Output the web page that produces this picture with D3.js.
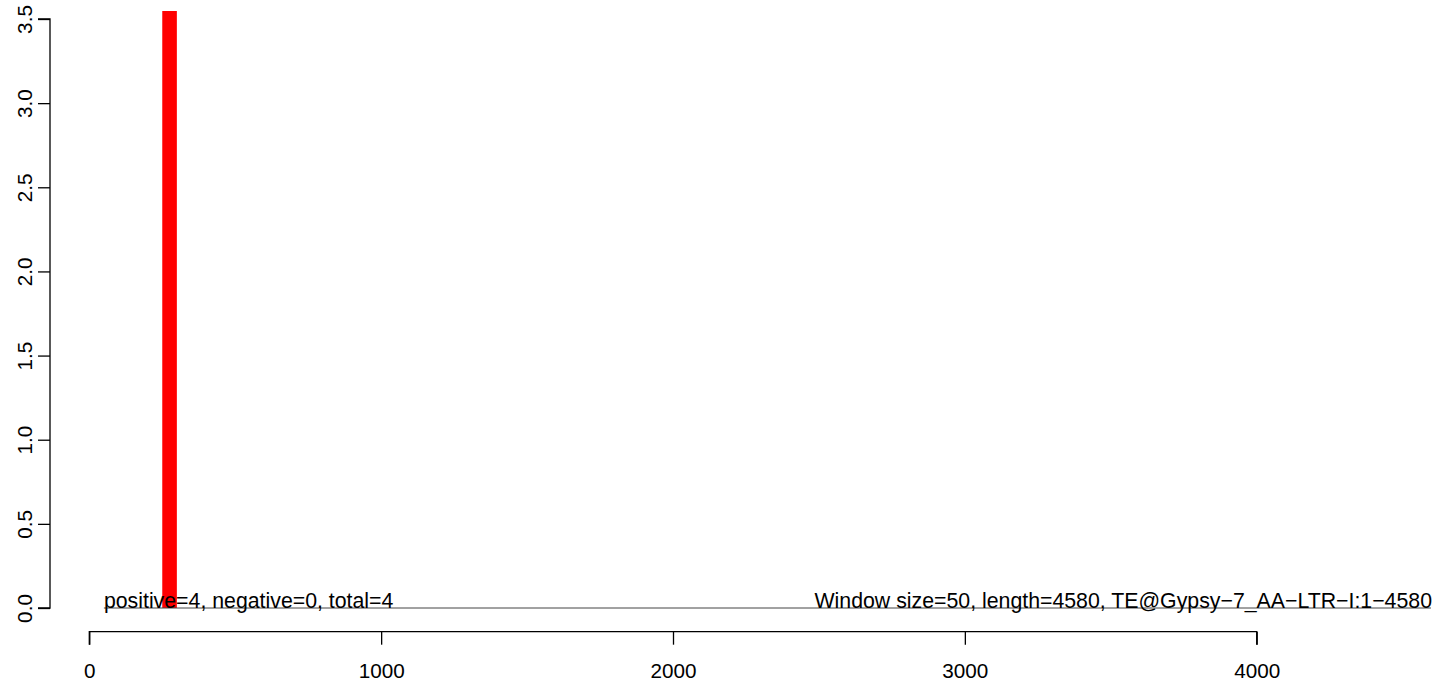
<!DOCTYPE html>
<html>
<head>
<meta charset="utf-8">
<script src="https://cdn.jsdelivr.net/npm/d3@7"></script>
<style>
html,body{margin:0;padding:0;background:#fff;}
svg{display:block;}
text{font-family:"Liberation Sans",Arial,sans-serif;}
</style>
</head>
<body>
<svg id="chart" width="1436" height="683"></svg>
<script>
// Data
const windowSize = 50;
const seqLength = 4580;
const binStarts = [250];
const binValues = [4];
const xTicks = [0, 1000, 2000, 3000, 4000];
const yTicks = [0, 0.5, 1.0, 1.5, 2.0, 2.5, 3.0, 3.5];
const baselineRange = [50, 4597];
const leftLabel = "positive=4, negative=0, total=4";
const rightLabel = "Window size=50, length=4580, TE@Gypsy\u22127_AA\u2212LTR\u2212I:1\u22124580";

const svg = d3.select("#chart");
const x = d3.scaleLinear().domain([0, 4000]).range([89.3, 1256.7]);
const y = d3.scaleLinear().domain([0, 3.5]).range([608, 19]);
const fs = 20.7;
const fsNote = 21.3;

svg.append("defs").append("clipPath").attr("id", "plotclip")
  .append("rect").attr("x", 0).attr("y", 11).attr("width", 1436).attr("height", 683 - 11);

// bars
svg.append("g").attr("clip-path", "url(#plotclip)")
  .selectAll("rect").data(binStarts.map((s, i) => ({s, v: binValues[i]})))
  .join("rect")
  .attr("x", d => x(d.s))
  .attr("width", d => x(d.s + windowSize) - x(d.s))
  .attr("y", d => y(d.v))
  .attr("height", d => y(0) - y(d.v))
  .attr("fill", "#FF0000");

// baseline
svg.append("line")
  .attr("x1", x(baselineRange[0])).attr("x2", x(baselineRange[1]))
  .attr("y1", y(0)).attr("y2", y(0))
  .attr("stroke", "#444").attr("stroke-width", 1);

// labels
svg.append("text").attr("x", x(baselineRange[0])).attr("y", y(0))
  .attr("font-size", fsNote).attr("fill", "#000").text(leftLabel);
svg.append("text").attr("x", 1432).attr("y", y(0))
  .attr("text-anchor", "end")
  .attr("font-size", fsNote).attr("fill", "#000").text(rightLabel);

// y axis
const yAxis = svg.append("g").attr("transform", "translate(50,0)")
  .call(d3.axisLeft(y).tickValues(yTicks).tickSize(12).tickFormat(d3.format(".1f")));
yAxis.select(".domain").attr("d", `M-12,${y(3.5)}H0V${y(0)}H-12`).attr("stroke-width", 1.3);
yAxis.selectAll(".tick line").attr("stroke-width", 1.3);
yAxis.selectAll(".tick text")
  .attr("font-size", fs).attr("font-family", "Liberation Sans, Arial, sans-serif")
  .attr("fill", "#000")
  .attr("transform", "rotate(-90)")
  .attr("x", 0).attr("dx", null).attr("dy", null)
  .attr("y", -18)
  .attr("text-anchor", "middle");

// x axis
const xAxis = svg.append("g").attr("transform", "translate(0,631.7)")
  .call(d3.axisBottom(x).tickValues(xTicks).tickSize(13).tickFormat(d3.format("d")));
xAxis.select(".domain").attr("d", `M${x(0)},13V0H${x(4000)}V13`).attr("stroke-width", 1.3);
xAxis.selectAll(".tick line").attr("stroke-width", 1.3);
xAxis.selectAll(".tick text")
  .attr("font-size", fs).attr("font-family", "Liberation Sans, Arial, sans-serif")
  .attr("fill", "#000")
  .attr("y", 46).attr("dy", null);
</script>
</body>
</html>
